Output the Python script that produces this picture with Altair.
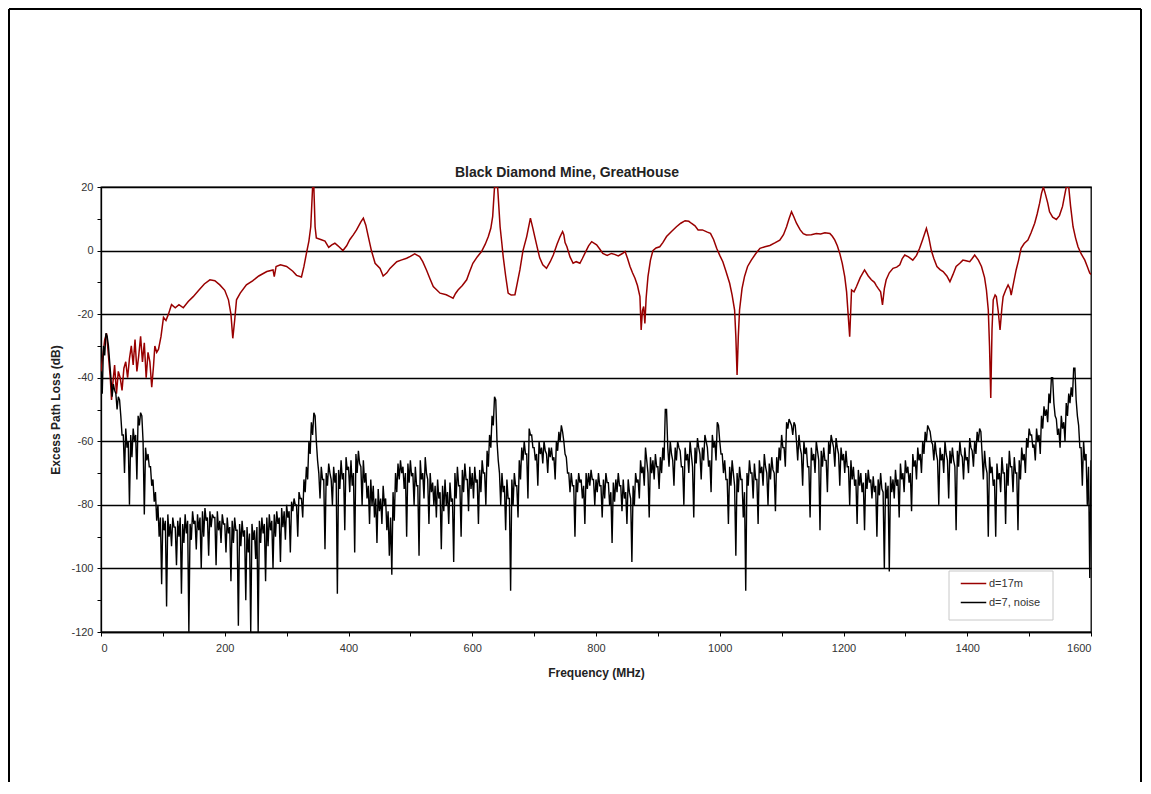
import altair as alt
import pandas as pd

# ---- data ----
series_names = ["d=17m", "d=7, noise"]
series_colors = ["#990000", "#000000"]

red_freq = [0, 3, 6, 9, 12, 15, 17, 19, 22, 25, 28, 31, 34, 37, 40, 43, 46, 49, 52, 55,
            58, 61, 64, 67, 70, 73, 76, 79, 82, 85, 87, 90, 93, 97, 101, 105, 109, 114, 120, 126,
            133, 141, 149, 158, 167, 176, 184, 192, 200, 206, 210, 213, 216, 219, 225, 235, 245, 255, 268, 278,
            280, 283, 290, 300, 310, 316, 324, 328, 332, 336, 339, 342, 344, 346, 348, 355, 362, 368, 373, 378,
            383, 391, 397, 402, 408, 413, 420, 424, 428, 432, 437, 443, 451, 456, 462, 467, 478, 485, 494, 500,
            507, 515, 520, 526, 532, 537, 548, 558, 564, 569, 573, 577, 584, 591, 596, 601, 608, 615, 621, 626,
            630, 633, 636, 641, 645, 648, 650, 654, 658, 663, 669, 673, 677, 682, 688, 694, 698, 701, 705, 709,
            714, 720, 726, 731, 737, 742, 746, 748, 750, 753, 758, 763, 768, 774, 778, 782, 788, 793, 801, 806,
            811, 818, 825, 830, 836, 842, 847, 851, 855, 859, 863, 867, 871, 873, 875, 877, 879, 881, 884, 888,
            892, 897, 903, 908, 914, 922, 930, 937, 944, 950, 954, 960, 965, 972, 980, 985, 990, 995, 1000, 1005,
            1010, 1016, 1020, 1024, 1026, 1028, 1030, 1032, 1036, 1040, 1045, 1051, 1058, 1065, 1073, 1081, 1089, 1097, 1103, 1108,
            1112, 1116, 1120, 1124, 1130, 1135, 1140, 1148, 1156, 1163, 1170, 1178, 1182, 1186, 1190, 1194, 1198, 1202, 1205, 1207,
            1210, 1213, 1217, 1221, 1227, 1234, 1240, 1245, 1250, 1253, 1256, 1260, 1263, 1266, 1269, 1274, 1280, 1286, 1291, 1295,
            1299, 1305, 1312, 1318, 1323, 1328, 1334, 1338, 1342, 1346, 1351, 1356, 1361, 1367, 1372, 1377, 1382, 1388, 1393, 1398,
            1404, 1408, 1412, 1418, 1423, 1428, 1431, 1434, 1436, 1438, 1440, 1442, 1445, 1447, 1450, 1453, 1456, 1458, 1462, 1466,
            1469, 1471, 1475, 1479, 1483, 1487, 1492, 1498, 1503, 1509, 1513, 1517, 1520, 1523, 1526, 1530, 1533, 1538, 1544, 1549,
            1554, 1557, 1560, 1564, 1567, 1571, 1575, 1579, 1584, 1590, 1594, 1598, 1600]

red_db = [-38, -33, -28, -26, -33, -40, -47, -42, -36, -45, -38, -40, -44, -37, -35, -40, -34, -30, -36, -28,
          -38, -33, -27, -35, -29, -40, -32, -35, -43, -36, -30, -32, -31, -27, -21, -22, -20, -17, -18, -17,
          -18, -16, -14.5, -12.5, -10.5, -9.2, -9.5, -10.8, -12.5, -15.5, -20, -27.6, -22, -15.5, -13.4, -10.8, -9.5, -8, -6.6, -6.1,
          -8.2, -5, -4.5, -5, -6.5, -7.8, -8.3, -5, -0.9, 3, 7.5, 20, 20, 7.5, 4, 3.5, 3, 1, 1.8, 2.3,
          1.5, 0, 1.5, 3.4, 5, 6.5, 9, 10.2, 8, 4.4, 0, -4, -5.6, -8, -7, -5.6, -3.5, -3, -2.4, -1.8,
          -1, -1.9, -3.5, -6.1, -9, -11.3, -13.4, -13.9, -14.5, -15, -13.5, -12.4, -11, -9.2, -6.5, -4, -2, -0.3, 2, 4.4,
          7, 10.7, 20, 20, 7.5, 2, -1.9, -8, -13.4, -14, -13.9, -10, -6.1, 0, 4.4, 10.2, 7, 4.4, 1, -2.3,
          -4.5, -5.6, -3.5, -1.4, 2, 4.4, 6, 5, 2.5, 1.2, -2, -4, -3.5, -4, -2.5, -0.9, 1.5, 2.8, 1.8, 0.5,
          -0.9, -1.5, -0.9, -1.2, -1.7, -1, -0.3, -2.5, -5, -7, -8.7, -11, -14.5, -25, -19, -17.6, -22.9, -15, -8.2, -3,
          0, 0.8, 1.2, 2.5, 4.4, 6, 7.5, 8.6, 9.4, 9.2, 8.6, 7.8, 6.5, 6.5, 5.8, 5.4, 3.5, 0.7, -1.5, -3.5,
          -6.5, -10.3, -14, -18.7, -27, -39.1, -27, -18.7, -12, -8.2, -5, -3, -1, 0.7, 1.2, 1.6, 2.4, 3.3, 5, 7.5,
          10, 12.2, 10.5, 8.6, 6.5, 5.3, 4.9, 5, 5.4, 5.2, 5.6, 5.4, 4.5, 3.3, 1.5, -0.9, -4, -8.2, -13, -18.7,
          -27.1, -12.4, -13, -11.3, -8.5, -6.1, -8, -9.2, -10, -11, -11.9, -13, -17.1, -12, -9.2, -7, -5.6, -5.2, -4.5, -2.5,
          -1.4, -2, -3, -1.5, 0.7, 3.5, 7, 4, 0, -2.5, -5, -6, -6.6, -8, -9.8, -7.5, -5, -4, -3, -3.2,
          -3.5, -2.5, -1.4, -3, -5, -8.5, -12.4, -18.7, -30, -46.4, -25, -15.5, -14, -14.5, -19, -25, -18, -14.5, -12.5, -10.8,
          -12, -14, -10, -6.1, -3, 0.7, 2.2, 3.3, 5.5, 8.6, 11.5, 14.9, 18, 20, 18, 15, 12.2, 10.5, 9.8, 11,
          13.9, 17, 20, 20, 14, 7.5, 4, 1.2, -1, -3, -5, -7.1, -7.5]

# noise series: upper edge of the trace, read every 4 MHz starting at 0 MHz (one line per 100 MHz)
noise_top_db = [
    -40, -30, -26, -30, -40, -42, -45, -46, -52, -58, -56, -60, -58, -56, -58, -52, -51, -60, -62, -64, -68, -72, -76, -80, -84,
    -84, -85, -83, -86, -84, -87, -85, -84, -86, -83, -85, -86, -82, -85, -83, -84, -82, -81, -84, -82, -83, -84, -82, -85, -83,
    -86, -84, -87, -85, -84, -88, -86, -85, -88, -87, -89, -86, -88, -87, -85, -84, -86, -84, -83, -85, -83, -82, -84, -81, -82,
    -80, -82, -79, -78, -80, -76, -78, -72, -68, -60, -54, -51, -60, -70, -68, -72, -70, -67, -72, -68, -70, -69, -66, -70, -65,
    -68, -66, -70, -64, -63, -68, -66, -70, -74, -72, -74, -78, -75, -78, -74, -78, -82, -84, -76, -70, -67, -66, -68, -70, -67,
    -66, -70, -68, -74, -66, -70, -65, -72, -70, -73, -74, -72, -76, -74, -72, -76, -73, -78, -70, -68, -74, -69, -67, -72, -68,
    -70, -68, -72, -69, -66, -70, -63, -58, -52, -46, -60, -70, -70, -74, -72, -78, -72, -70, -74, -66, -62, -60, -64, -56, -58,
    -62, -64, -60, -62, -60, -64, -62, -62, -65, -60, -57, -55, -60, -65, -70, -70, -74, -72, -70, -72, -74, -70, -70, -69, -72,
    -72, -70, -74, -72, -70, -73, -76, -73, -72, -70, -74, -72, -76, -72, -78, -74, -70, -72, -66, -68, -62, -70, -65, -66, -64,
    -68, -65, -62, -50, -62, -60, -66, -62, -60, -63, -68, -62, -64, -60, -68, -62, -59, -64, -62, -58, -62, -66, -58, -60, -54,
    -60, -64, -66, -72, -68, -66, -74, -70, -68, -72, -76, -70, -66, -70, -67, -72, -66, -68, -64, -70, -67, -65, -70, -65, -62,
    -58, -62, -54, -53, -55, -54, -60, -58, -64, -60, -62, -68, -62, -64, -60, -66, -63, -62, -66, -60, -58, -62, -59, -64, -62,
    -64, -63, -68, -66, -68, -72, -69, -70, -73, -70, -69, -72, -71, -74, -72, -70, -76, -73, -74, -71, -72, -69, -72, -67, -70,
    -66, -68, -70, -64, -66, -62, -64, -60, -57, -55, -57, -61, -60, -66, -62, -64, -60, -66, -63, -62, -68, -63, -60, -65, -62,
    -65, -59, -63, -60, -57, -56, -64, -63, -70, -65, -68, -72, -67, -70, -65, -70, -67, -63, -68, -65, -70, -66, -62, -64, -59,
    -56, -58, -61, -56, -58, -52, -49, -50, -45, -40, -48, -53, -56, -52, -54, -48, -45, -43, -37, -47, -55, -62, -60, -64, -68,
    -66,
]
# noise series: lower excursions of the trace, read every 4 MHz starting at 2 MHz
noise_low_db = [
    -45, -33, -27, -35, -46, -44, -50, -47, -58, -70, -62, -80, -65, -60, -72, -55, -52, -83, -66, -68, -74, -79, -85, -90, -105,
    -88, -112, -90, -93, -87, -99, -90, -108, -92, -89, -120, -91, -86, -94, -88, -100, -90, -85, -96, -87, -84, -99, -88, -92, -86,
    -95, -89, -104, -92, -88, -118, -93, -90, -110, -95, -120, -91, -97, -120, -92, -89, -104, -93, -88, -100, -90, -86, -98, -87, -91,
    -84, -95, -82, -80, -90, -78, -84, -76, -72, -64, -58, -52, -66, -78, -72, -94, -74, -70, -80, -73, -108, -75, -72, -88, -69,
    -76, -74, -95, -70, -67, -80, -73, -78, -86, -80, -84, -92, -82, -86, -80, -88, -96, -102, -85, -76, -72, -70, -75, -90, -73,
    -71, -80, -74, -96, -72, -78, -70, -86, -76, -80, -84, -78, -94, -82, -80, -86, -79, -98, -78, -74, -90, -76, -72, -82, -75,
    -78, -73, -86, -76, -70, -80, -68, -62, -55, -47, -66, -80, -76, -88, -78, -107, -80, -74, -84, -72, -66, -64, -78, -58, -62,
    -66, -74, -64, -67, -63, -70, -65, -66, -72, -63, -60, -57, -64, -70, -76, -74, -90, -76, -73, -78, -86, -75, -74, -72, -80,
    -76, -74, -84, -78, -73, -80, -92, -79, -76, -74, -82, -78, -86, -76, -98, -80, -73, -78, -70, -74, -66, -84, -70, -72, -68,
    -75, -70, -66, -50, -68, -64, -74, -66, -62, -68, -80, -66, -70, -64, -84, -67, -62, -72, -66, -60, -68, -76, -62, -66, -55,
    -64, -70, -72, -86, -74, -70, -96, -76, -72, -84, -107, -74, -70, -78, -72, -86, -70, -74, -68, -80, -72, -69, -82, -70, -66,
    -62, -68, -56, -54, -58, -55, -66, -62, -74, -64, -68, -84, -66, -70, -63, -88, -68, -66, -76, -64, -60, -68, -62, -74, -66,
    -70, -68, -80, -72, -74, -86, -74, -76, -88, -75, -73, -78, -76, -90, -77, -75, -100, -78, -101, -76, -78, -74, -84, -72, -76,
    -70, -73, -82, -68, -72, -66, -70, -64, -60, -56, -60, -66, -64, -80, -66, -70, -64, -78, -67, -66, -88, -68, -64, -72, -66,
    -70, -62, -68, -64, -60, -57, -72, -68, -90, -70, -74, -90, -72, -76, -70, -86, -74, -68, -76, -70, -88, -72, -66, -70, -62,
    -58, -62, -66, -60, -64, -56, -52, -54, -48, -40, -52, -58, -62, -56, -60, -52, -48, -46, -37, -52, -62, -74, -66, -80, -103,
]
noise_step_mhz = 4

x_tick_values = list(range(0, 1601, 100))
y_tick_values = list(range(-120, 21, 10))

chart_title = "Black Diamond Mine, GreatHouse"
x_title = "Frequency (MHz)"
y_title = "Excess Path Loss (dB)"

# ---- tables ----
red_df = pd.DataFrame({"freq": red_freq, "db": red_db, "series": series_names[0]})

noise_rows = []
for i, v in enumerate(noise_top_db):
    noise_rows.append({"freq": i * noise_step_mhz, "db": v})
    if i < len(noise_low_db):
        noise_rows.append({"freq": i * noise_step_mhz + noise_step_mhz / 2, "db": noise_low_db[i]})
black_df = pd.DataFrame(noise_rows)
black_df["series"] = series_names[1]

FONT = "Liberation Sans"

x_enc = alt.X(
    "freq:Q",
    scale=alt.Scale(domain=[0, 1600], nice=False, zero=False),
    axis=alt.Axis(
        values=x_tick_values,
        labelExpr="datum.value % 200 === 0 ? '' + datum.value : ''",
        grid=False,
        title=x_title,
        tickSize=4,
        labelPadding=6,
        titlePadding=14,
    ),
)
y_enc = alt.Y(
    "db:Q",
    scale=alt.Scale(domain=[-120, 20], nice=False, zero=False),
    axis=alt.Axis(
        values=y_tick_values,
        labelExpr="datum.value % 20 === 0 ? '' + datum.value : ''",
        grid=True,
        gridOpacity={"condition": {"test": "datum.value % 20 === 0", "value": 1}, "value": 0},
        gridColor="#000000",
        gridWidth=1.3,
        title=y_title,
        tickSize=4,
        labelPadding=4,
        titlePadding=8,
    ),
)
color_enc = alt.Color(
    "series:N",
    scale=alt.Scale(domain=series_names, range=series_colors),
    legend=alt.Legend(
        title=None,
        orient="none",
        legendX=859,
        legendY=383,
        direction="vertical",
        symbolType="stroke",
        symbolSize=650,
        symbolStrokeWidth=1.5,
        labelFontSize=11,
        labelFont=FONT,
        labelColor="#333333",
        labelOffset=2,
        rowPadding=-3,
        padding=0,
        strokeColor="transparent",
    ),
)

red_line = alt.Chart(red_df).mark_line(strokeWidth=1.5, clip=True).encode(
    x=x_enc, y=y_enc, color=color_enc
)
black_line = alt.Chart(black_df).mark_line(strokeWidth=1.4, clip=True).encode(
    x=x_enc, y=y_enc, color=color_enc
)

deco_df = pd.DataFrame({"k": [0]})
legend_box = alt.Chart(deco_df).mark_rect(fill="white", stroke="#c8c8c8", strokeWidth=1).encode(
    x=alt.value(848), x2=alt.value(952), y=alt.value(384), y2=alt.value(433)
)
frame_top = alt.Chart(deco_df).mark_rule(color="black", strokeWidth=2).encode(
    x=alt.value(-92), x2=alt.value(1040), y=alt.value(-178)
)
frame_left = alt.Chart(deco_df).mark_rule(color="black", strokeWidth=2).encode(
    x=alt.value(-92), y=alt.value(-178), y2=alt.value(600)
)
frame_right = alt.Chart(deco_df).mark_rule(color="black", strokeWidth=2).encode(
    x=alt.value(1040), y=alt.value(-178), y2=alt.value(600)
)

chart = (
    alt.layer(red_line, black_line, legend_box, frame_top, frame_left, frame_right)
    .properties(
        width=990,
        height=445,
        title=alt.TitleParams(
            chart_title, fontSize=14, font=FONT, fontWeight="bold", color="#222222",
            anchor="middle", dx=-29, offset=-186, baseline="bottom",
        ),
        autosize=alt.AutoSizeParams(type="none"),
        padding={"left": 93, "top": 179, "right": 52, "bottom": 150},
    )
    .configure_view(stroke="#000000", strokeWidth=1.3)
    .configure_axis(
        domainColor="#000000",
        domainWidth=1.3,
        tickColor="#000000",
        tickWidth=1,
        labelFont=FONT,
        labelFontSize=11,
        labelColor="#333333",
        titleFont=FONT,
        titleFontSize=12,
        titleFontWeight="bold",
        titleColor="#222222",
    )
)

chart.save("out.html", embed_options={"renderer": "svg", "actions": False})
